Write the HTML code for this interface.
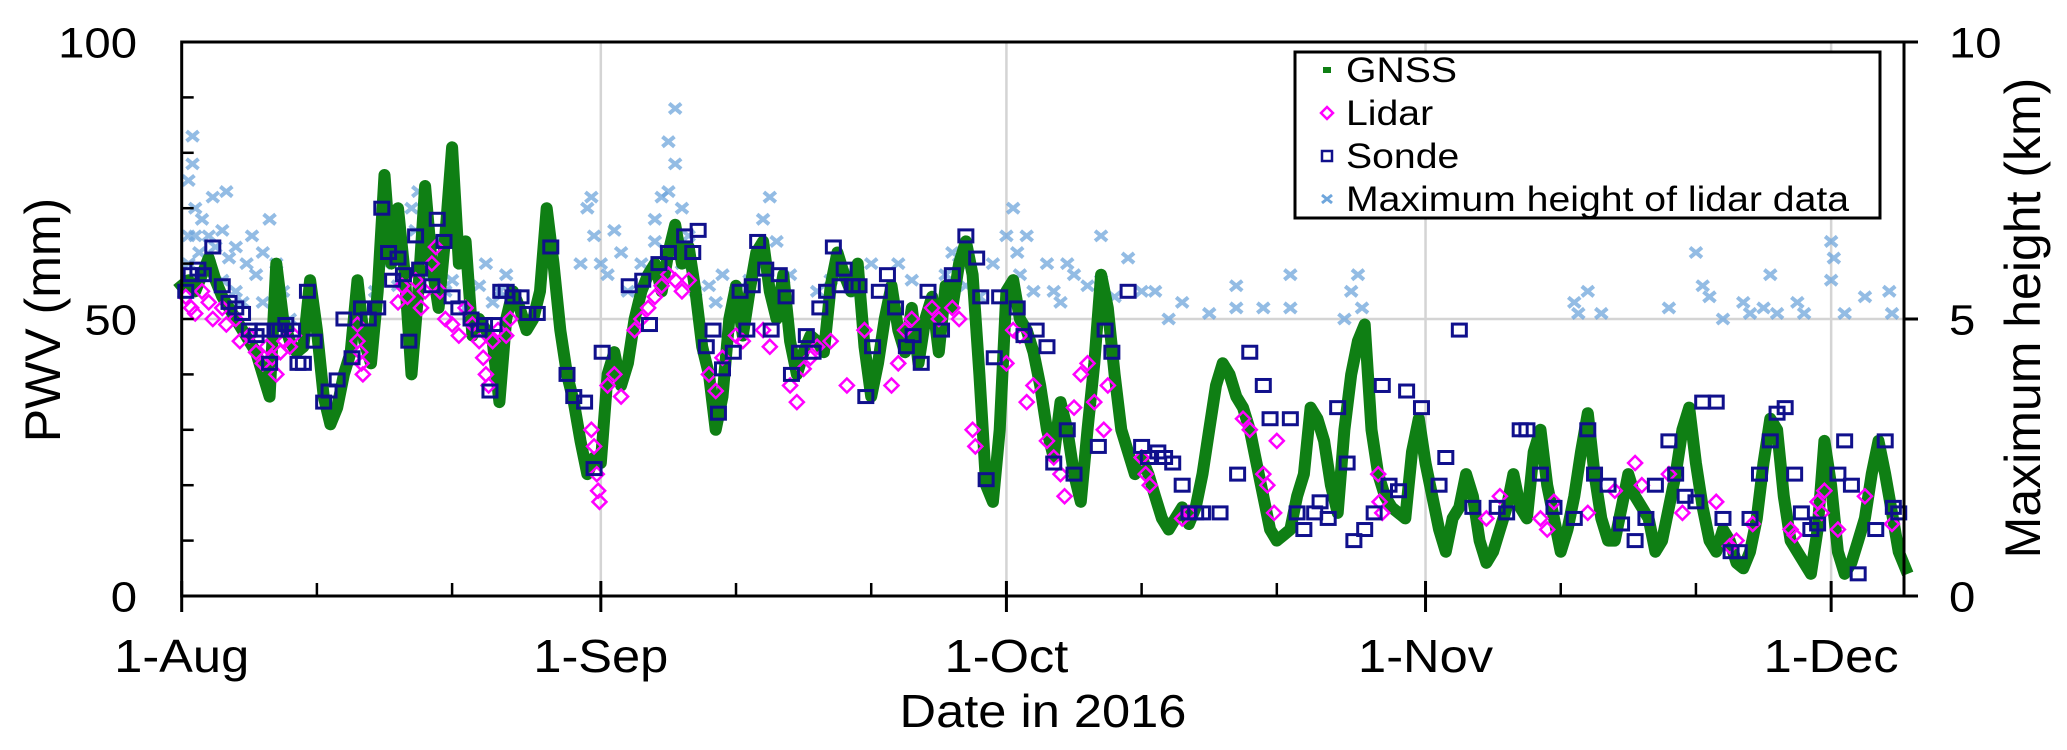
<!DOCTYPE html>
<html><head><meta charset="utf-8"><style>
html,body{margin:0;padding:0;background:#fff}
svg{display:block}
text{font-family:"Liberation Sans",Arial,sans-serif;fill:#000}
</style></head><body>
<svg id="chart" width="2067" height="750" xmlns="http://www.w3.org/2000/svg">
<g id="grid"></g>
<g id="hgt"></g>
<g id="gnss"></g>
<g id="lidar"></g>
<g id="sonde"></g>
<g id="axes"></g>
<g id="legend"></g>
</svg>
<script>
// ---- data ----
const monthLabels=["1-Aug","1-Sep","1-Oct","1-Nov","1-Dec"];
const monthDays=[0,31,61,92,122];
const minorDays=[10,20,41,51,71,81,102,112];
const leftTicks=[0,50,100];
const rightTicks=[0,5,10];
// GNSS PWV (mm), half-day steps from 1-Aug 00:00
const gnssVals=[56,57,55,58,61,57,54,52,50,48,46,44,40,36,60,50,46,44,45,57,48,36,31,34,40,44,57,46,42,55,76,60,70,58,40,55,74,60,52,65,81,60,64,47,50,48,46,35,50,55,52,48,50,55,70,60,48,40,35,28,22,25,
24,40,44,38,42,50,55,58,60,55,62,67,60,63,55,45,40,30,36,50,56,47,55,62,64,55,50,58,46,40,44,47,46,44,56,62,58,55,60,45,36,42,50,56,48,44,52,42,50,54,44,56,52,60,64,58,40,20,17,30,
55,57,50,48,44,38,30,25,35,30,22,17,30,42,58,52,40,30,26,22,25,22,18,14,12,14,16,13,16,22,30,38,42,40,36,34,30,24,18,12,10,11,12,18,22,34,32,28,20,15,30,40,46,49,30,22,18,16,15,14,26,32,24,18,12,8,14,16,22,18,10,6,8,12,16,22,16,14,26,30,20,14,8,12,18,26,33,22,14,10,10,16,22,18,16,14,8,10,16,22,30,34,24,16,10,8,12,10,6,5,8,14,24,32,30,18,10,8,6,4,12,28,20,8,4,6,10,14,22,28,22,15,8,5];
const sondeDays=[0.3,0.7,1.2,1.6,2.3,3,3.5,4,4.5,5,5.5,6,6.5,6.9,7.3,7.7,8.2,8.6,9,9.3,9.8,10.5,10.9,11.5,12,12.6,13.3,13.8,14.5,14.8,15.3,15.6,16,16.4,16.8,17.3,17.6,18.5,18.9,19.4,20,20.5,21.4,22,22.4,22.8,23.1,23.6,24,24.5,25.1,25.6,26.3,27.3,28.5,29,29.8,30.5,
31.1,33.1,34.1,34.6,35.3,36,37.2,38.2,37.8,38.8,39.3,40,39.7,40.8,41.8,41.3,42.2,42.6,43.2,43.6,44.2,44.7,45.7,45.1,46.2,46.7,47.2,47.7,48.2,49,48.7,49.6,50.1,50.6,51.1,51.6,52.2,52.8,53.6,54.1,54.7,55.2,56.2,57,58,58.8,59.1,60.1,59.5,60.5,
61.8,62.3,63.2,64,64.5,65.5,66,67.8,68.3,68.8,70,71,71.5,72.2,72.7,73.3,74,74.5,75,75.5,76.8,78.1,79,80,80.5,82,82.5,83,83.8,84.2,84.8,85.5,86.2,86.7,87.5,88.2,88.8,89.3,90,90.6,91.7,93,93.5,94.5,95.5,97.3,98,99,99.5,100.5,101.5,103,104,104.5,105.5,106.5,107.5,108.3,109,110,110.5,111.2,112,112.5,113.5,114,114.6,115.2,116,116.7,117.5,118,118.6,119.3,119.8,120.5,121,122.5,123,123.5,124,125.3,126,126.6,127];
const sondeVals=[55,58,59,58,63,56,53,52,51,48,47,48,42,48,48,49,48,42,42,55,46,35,37,39,50,43,52,50,52,70,62,57,61,58,46,65,59,56,68,64,54,52,50,48,49,37,49,55,55,54,54,51,51,63,40,36,35,23,
44,56,57,49,60,62,65,66,62,45,48,41,33,44,48,55,56,64,59,48,58,54,44,40,47,44,52,55,63,59,56,56,56,36,45,55,58,52,45,47,42,55,48,58,65,61,54,43,21,54,52,
47,48,45,24,30,22,27,48,44,55,27,25,26,25,24,20,15,15,15,15,22,44,38,32,32,15,12,15,17,14,34,24,10,12,15,38,20,19,37,34,20,25,48,16,16,15,30,30,22,16,14,30,22,20,13,10,14,20,28,22,18,17,35,35,14,8,8,14,22,28,33,34,22,15,12,13,22,28,20,4,12,28,16,15,15];
const lidarDays=[0.3,0.7,1,1.5,2,2.3,3,3.3,4,4.3,5,5.5,6,6.3,6.7,7,7.3,7.6,8,8.3,13,13,13.2,13.3,13.4,16,16.3,16.7,17.3,17.7,18,18.5,18.8,19.1,19.5,20,20.5,21,21.5,22,22.3,22.5,22.7,23,23.4,24,24.3,30.3,30.5,30.7,30.8,30.9,31.5,32,32.5,33.5,34,34.5,35,35.5,36,36.5,37,37.5,39,39.5,40,41,41.5,43,43.5,45,45.5,46,46.5,47,48,49.2,50.5,52.5,53,53.5,54,55.5,56,57,57.5,58.5,58.7,61,61.5,62,62.5,63,64,64.5,65,65.3,66,66.5,67,67.5,68.2,68.5,71,71.3,71.6,74,74.5,78.5,79,80,80.3,80.8,81,88.5,88.6,88.8,96.5,97.5,100.5,101,101.5,104,106,107.5,108,110,111,113.5,114.5,115,116.2,119,119.3,121,121.3,121.5,122.5,124.5,126.5];
const lidarVals=[54,52,51,55,53,50,52,49,50,46,47,44,42,45,43,40,44,46,45,47,49,46,44,42,40,53,56,54,57,52,55,60,63,55,50,49,47,52,49,46,43,40,38,46,48,47,50,30,27,22,19,17,38,40,36,48,50,52,54,56,58,57,55,57,40,37,43,47,46,48,45,38,35,41,43,45,46,38,48,38,42,48,50,52,50,52,50,30,27,42,48,47,35,38,28,25,22,18,34,40,42,35,30,38,25,22,20,14,15,32,30,22,20,15,28,22,17,15,14,18,14,12,17,15,19,24,20,22,15,17,9,10,13,12,11,17,15,19,12,18,13];
const hgtDays=[0.5,0.5,0.5,0.8,0.8,1,1,1.3,1.5,2,2,2.3,2.5,3,3,3.3,3.5,4,4,4.5,4.8,5.2,5.5,6,6,6.5,7,7,7.5,8,
14.3,15,16,17,17.3,17.5,18,18.5,19.2,19.5,20,21,22,22.5,23,23.5,24,
29.5,30,30.3,30.5,31,31.5,32,32.5,33,34,35,35,35.5,36,36,36.5,36.5,37,37,37.5,38,39,39.5,40,41,42,43,43,43.5,44,44.5,45,47,48,49,49.5,50,
51,53,54,56.5,57,57.5,58,59,60,61,61.5,61.8,62,62.5,63,64,64.5,65,65.5,66,67,68,68,69,70,71,72,73,74,76,78,78,80,82,82,86,86.5,87,87.3,
103,103.3,104,105,110,112,112.5,113,114,115.5,116,117,117.5,118,119.5,120,122,122,122.2,123,124.5,126.3,126.5];
const hgtVals=[7.5,6.5,6.0,8.3,7.8,7.0,6.5,6.2,6.8,6.0,6.5,7.2,6.3,6.6,5.7,7.3,6.1,5.5,6.3,5.3,6.0,6.5,5.8,6.2,5.3,6.8,6.0,5.2,5.5,5.0,
5.5,6.0,5.6,7.0,6.6,7.3,6.2,5.8,6.4,5.5,5.7,5.2,5.6,6.0,5.3,5.5,5.8,
6.0,7.0,7.2,6.5,6.0,5.8,6.6,6.2,5.5,6.0,6.8,6.4,7.2,8.2,7.3,8.8,7.8,7.0,6.0,6.5,5.5,5.6,5.3,5.8,5.5,5.7,6.0,6.8,7.2,6.4,5.6,5.8,5.5,5.7,5.8,5.6,5.5,
6.0,6.0,5.7,5.8,6.2,6.0,5.6,5.4,6.0,6.5,7.0,6.2,5.8,6.5,5.5,6.0,5.5,5.3,6.0,5.8,5.6,6.5,5.7,5.4,6.1,5.5,5.5,5.0,5.3,5.1,5.6,5.2,5.2,5.8,5.2,5.0,5.5,5.8,5.2,
5.3,5.1,5.5,5.1,5.2,6.2,5.6,5.4,5.0,5.3,5.1,5.2,5.8,5.1,5.3,5.1,6.4,5.7,6.1,5.1,5.4,5.5,5.1];

// ---- scales ----
const X0=181.7, PXD=13.52, YB=596, YT=42;
function xOf(d){return X0+d*PXD;}
function yOf(v){return YB-(YB-YT)*v/100;}
function yR(km){return YB-(YB-YT)*km/10;}
const NS="http://www.w3.org/2000/svg";
function mk(tag,attrs,parent){const e=document.createElementNS(NS,tag);for(const k in attrs)e.setAttribute(k,attrs[k]);parent.appendChild(e);return e;}
const G=id=>document.getElementById(id);

// gridlines
const grid=G('grid');
let gl=mk('line',{x1:X0,x2:1904,y1:yOf(50),y2:yOf(50),stroke:'#d4d4d4','stroke-width':2.5},grid);


monthDays.slice(1).forEach(d=>{
  const l=mk('line',{x1:xOf(d),x2:xOf(d),y1:YT,y2:YB,stroke:'#d4d4d4','stroke-width':2.5},grid);
  
  
});

// heights (x markers)
const hg=G('hgt');
hgtDays.forEach((d,i)=>{
  const x=xOf(d),y=yR(hgtVals[i]);
  const p=mk('path',{d:`M${x-6},${y-5}L${x+6},${y+5}M${x-6},${y+5}L${x+6},${y-5}`,stroke:'#6fa6dc','stroke-width':4,opacity:0.75},hg);
  
  
});

// GNSS
const gg=G('gnss');
let pts=gnssVals.map((v,i)=>xOf(i*0.5).toFixed(1)+','+yOf(v).toFixed(1)).join(' ');
const pl=mk('polyline',{points:pts,fill:'none',stroke:'#0f7f14','stroke-width':12,'stroke-linejoin':'round','stroke-linecap':'square'},gg);



// Lidar diamonds
const lg=G('lidar');
lidarDays.forEach((d,i)=>{
  const x=xOf(d),y=yOf(lidarVals[i]);
  const p=mk('path',{d:`M${x},${y-7}L${x+7},${y}L${x},${y+7}L${x-7},${y}Z`,fill:'none',stroke:'#ff00ff','stroke-width':2.5},lg);
  
  
});

// Sonde squares
const sg=G('sonde');
sondeDays.forEach((d,i)=>{
  const x=xOf(d),y=yOf(sondeVals[i]);
  const r=mk('rect',{x:x-7,y:y-6,width:14,height:12,fill:'none',stroke:'#10108c','stroke-width':3},sg);
  
  
});

// axes
const ax=G('axes');
function line(x1,y1,x2,y2,w,name){const l=mk('line',{x1,y1,x2,y2,stroke:'#000','stroke-width':w},ax);return l;}
line(X0,YT,1918,YT,3,'top-frame');
line(X0,YB,1918,YB,3,'x-axis-line');
line(X0,YT-1.5,X0,YB+1.5,3,'left-axis-line');
line(1904,YT,1904,YB,3,'right-axis-line');
line(1904,yR(5),1918,yR(5),3,'right-tick-5');
for(let v=10;v<100;v+=10){ if(v!==50) line(X0,yOf(v),X0+12,yOf(v),2.5,'left-minor-tick'); }
line(X0,yOf(50),X0+12,yOf(50),2.5,'left-tick-50');
monthDays.forEach(d=>line(xOf(d),581,xOf(d),612,3,'month-tick'));
minorDays.forEach(d=>line(xOf(d),583,xOf(d),596,2.5,'minor-x-tick'));
function txt(s,x,y,size,anchor,name,rot){
  const t=mk('text',{'font-size':size,'text-anchor':anchor},ax);
  t.setAttribute('transform',rot?`translate(${x},${y}) rotate(-90)`:`translate(${x},${y}) scale(1.1,1)`);
  t.textContent=s;
  
  
  return t;
}
leftTicks.forEach(v=>txt(String(v),137,yOf(v)+15.5,43,'end','y-tick-label'));
rightTicks.forEach(v=>txt(String(v),1949,yR(v)+15.5,43,'start','y2-tick-label'));
monthLabels.forEach((s,i)=>txt(s,xOf(monthDays[i]),672,46,'middle','x-tick-label'));
txt('Date in 2016',1043,727,46,'middle','x-axis-title');
txt('PWV (mm)',60,320,50,'middle','y-axis-title',true);
txt('Maximum height (km)',2040,318,50,'middle','y2-axis-title',true);

// legend
const lgd=G('legend');
const box=mk('rect',{x:1295,y:52,width:585,height:166,fill:'#fff',stroke:'#000','stroke-width':3},lgd);


const legNames=['GNSS','Lidar','Sonde','Maximum height of lidar data'];
const legY=[82,125,168,211];
legNames.forEach((n,i)=>{
  const cy=legY[i]-12, mx=1327;
  let m;
  if(i===0) m=mk('rect',{x:mx-4,y:cy-3,width:8,height:6,fill:'#0f7f14'},lgd);
  else if(i===1) m=mk('path',{d:`M${mx},${cy-6}L${mx+6},${cy}L${mx},${cy+6}L${mx-6},${cy}Z`,fill:'none',stroke:'#ff00ff','stroke-width':2.5},lgd);
  else if(i===2) m=mk('rect',{x:mx-5,y:cy-5,width:10,height:10,fill:'none',stroke:'#10108c','stroke-width':2.5},lgd);
  else m=mk('path',{d:`M${mx-5},${cy-4}L${mx+5},${cy+4}M${mx-5},${cy+4}L${mx+5},${cy-4}`,stroke:'#6fa6dc','stroke-width':3},lgd);
  
  
  const t=mk('text',{'font-size':35,transform:`translate(1346,${legY[i]}) scale(1.12,1)`},lgd);
  t.textContent=n;
  
  
});
</script>
</body></html>
